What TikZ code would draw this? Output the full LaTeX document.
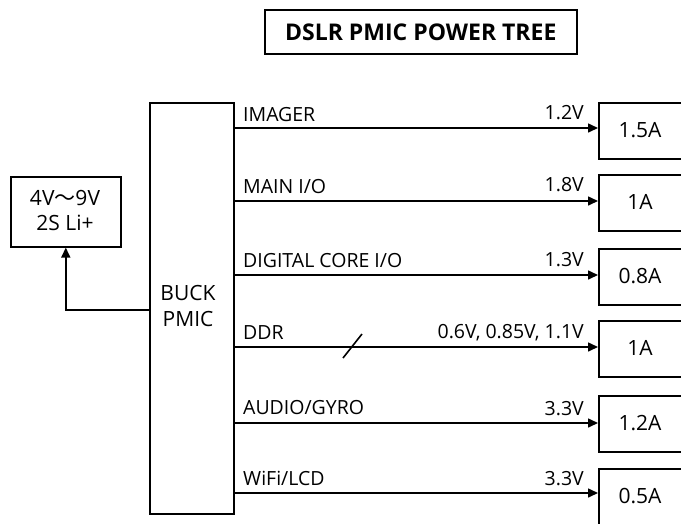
\documentclass[tikz,border=0pt]{standalone}
\usepackage{fontspec}
\setmainfont{Open Sans}
\newfontfamily\cjk{Noto Sans CJK SC}
\usetikzlibrary{arrows.meta}
\tikzset{
  box/.style={draw, line width=1.6pt, inner sep=0pt, anchor=north west},
  rail/.style={line width=1.6pt, -{Triangle[length=10pt,width=9pt]}},
  lbl/.style={font=\fontsize{19.5}{23}\selectfont, inner sep=0pt},
  boxtxt/.style={font=\fontsize{21}{26}\selectfont, inner sep=0pt, align=center},
}
\begin{document}
\begin{tikzpicture}[x=1pt,y=-1pt]
\useasboundingbox (0,0) rectangle (681,523);
% title
\node[box, minimum width=312pt, minimum height=44pt] (title) at (264,9) {};
\node[font=\fontsize{23}{27}\selectfont\bfseries, inner sep=0pt] (titletxt) at (title.center) {DSLR PMIC POWER TREE};
% source
\node[box, minimum width=110pt, minimum height=70pt] (src) at (10,176) {};
\node[boxtxt] (srct1) at (65,198) {4V{\cjk 〜}9V};
\node[boxtxt] (srct2) at (65,223) {2S Li+};
% PMIC
\node[box, minimum width=84pt, minimum height=411pt] (pmic) at (149,102) {};
\node[boxtxt] (pmict) at (188,306) {BUCK\\PMIC};
% loads
\node[box, minimum width=86pt, minimum height=56pt] (l1) at (598,102) {};
\node[box, minimum width=86pt, minimum height=56pt] (l2) at (598,174) {};
\node[box, minimum width=86pt, minimum height=56pt] (l3) at (598,248) {};
\node[box, minimum width=86pt, minimum height=56pt] (l4) at (598,320) {};
\node[box, minimum width=86pt, minimum height=56pt] (l5) at (598,395) {};
\node[box, minimum width=86pt, minimum height=56pt] (l6) at (598,468) {};
\node[boxtxt] (l1t) at (640,130) {1.5A};
\node[boxtxt] (l2t) at (640,202) {1A};
\node[boxtxt] (l3t) at (640,276) {0.8A};
\node[boxtxt] (l4t) at (640,348) {1A};
\node[boxtxt] (l5t) at (640,423) {1.2A};
\node[boxtxt] (l6t) at (640,496) {0.5A};
% rail coordinates
\coordinate (r1) at (0,128);
\coordinate (r2) at (0,201);
\coordinate (r3) at (0,275);
\coordinate (r4) at (0,347);
\coordinate (r5) at (0,423);
\coordinate (r6) at (0,493);
\foreach \i in {1,...,6}{
  \draw[rail] (pmic.east |- r\i) -- (l\i.west |- r\i);
}
% rail labels
\node[lbl, anchor=base west] (n1) at (243,121) {IMAGER};
\node[lbl, anchor=base west] (n2) at (243,193) {MAIN I/O};
\node[lbl, anchor=base west] (n3) at (243,267) {DIGITAL CORE I/O};
\node[lbl, anchor=base west] (n4) at (243,339) {DDR};
\node[lbl, anchor=base west] (n5) at (243,414) {AUDIO/GYRO};
\node[lbl, anchor=base west] (n6) at (243,485) {WiFi/LCD};
\node[lbl, anchor=base east] (v1) at (584,119) {1.2V};
\node[lbl, anchor=base east] (v2) at (584,191) {1.8V};
\node[lbl, anchor=base east] (v3) at (584,266) {1.3V};
\node[lbl, anchor=base east] (v4) at (584,338) {0.6V, 0.85V, 1.1V};
\node[lbl, anchor=base east] (v5) at (584,415) {3.3V};
\node[lbl, anchor=base east] (v6) at (584,485) {3.3V};
% DDR slash
\coordinate (s1) at (343,358);
\coordinate (s2) at (362,334);
\draw[line width=1.6pt] (s1) -- (s2);
% feedback to source
\coordinate (fb) at (0,310);
\draw[rail] (pmic.west |- fb) -| (src.south);
\end{tikzpicture}
\end{document}
